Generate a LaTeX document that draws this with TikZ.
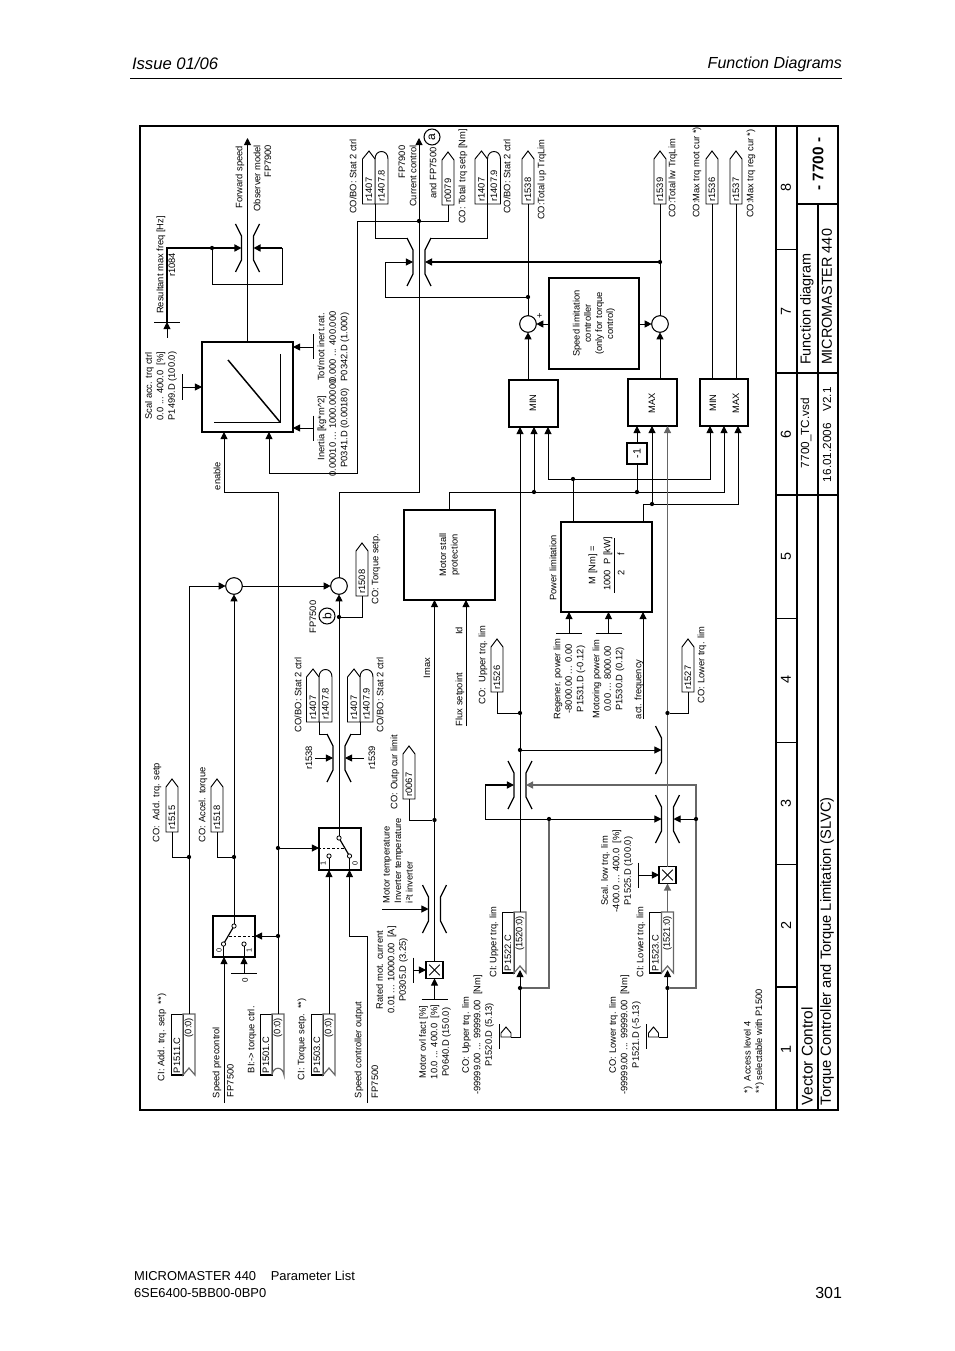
\documentclass[tikz,border=0pt]{standalone}
\usepackage{fontspec}
\setmainfont{Liberation Sans}
\usetikzlibrary{arrows.meta}

\tikzset{
  sz/.style 2 args={minimum width=#1*0.75pt,minimum height=#2*0.75pt},
  blk/.style={draw,line width=.8pt,inner sep=0,outer sep=0},
  lbl/.style={rotate=90,inner sep=0,outer sep=0,align=center,font=\fontsize{7}{8.6}\selectfont},
  ttl/.style={rotate=90,inner sep=0,outer sep=0,font=\fontsize{10.8}{13}\selectfont},
  pagetxt/.style={inner sep=0,outer sep=0,font=\fontsize{9.7}{12}\selectfont},
  sumc/.style={circle,draw,line width=.8pt,inner sep=0,outer sep=0,minimum size=12.5pt},
  jdot/.style={circle,fill,inner sep=0,outer sep=0,minimum size=3.2pt},
  cont/.style={circle,draw,fill=white,line width=.6pt,inner sep=0,outer sep=0,minimum size=3.2pt},
  mult/.style={blk,sz={17}{17},path picture={
      \draw[line width=.7pt] ([shift={(-4pt,-4pt)}]path picture bounding box.center) -- ([shift={(4pt,4pt)}]path picture bounding box.center);
      \draw[line width=.7pt] ([shift={(-4pt,4pt)}]path picture bounding box.center) -- ([shift={(4pt,-4pt)}]path picture bounding box.center);}},
  sig/.style={->},
  gry/.style={draw=black!60,line width=.9pt},
  heavy/.style={line width=1.1pt},
  pics/cotag/.style={code={
      \draw[fill=white] (-6,0) -- (-6,-45) -- (0,-53) -- (6,-45) -- (6,0) -- cycle;
      \node[lbl,anchor=west] (-txt) at (0,-2.5) {#1};
      \coordinate (-foot) at (0,0);}},
  pics/statpair/.style={code={
      \draw[fill=white] (0,0) -- (0,-45) .. controls (0,-55) and (13,-55) .. (13,-45) -- (13,0) -- cycle;
      \draw[fill=white] (-12.5,0) -- (-12.5,-45) -- (-6,-53) -- (0,-45) -- (0,0) -- cycle;
      \node[lbl,anchor=west] (-lft) at (-6,-2.5) {r1407};
      \node[lbl,anchor=west] (-rgt) at (6.5,-2.5) {#1};
      \coordinate (-foot) at (0,0);}},
  pics/citag/.style 2 args={code={
      \draw (-18,0) rectangle (-6,61);
      \draw[line width=1.3pt] (-18,61) -- (-6,61);
      \draw[gry] (-6,61) -- (-6,0) -- (6,0) -- (6,61) -- (0,54) -- cycle;
      \node[lbl,anchor=west] (-name) at (-12,59) {#1};
      \node[lbl,anchor=east] (-dflt) at (0,4) {#2};
      \coordinate (-top) at (0,0);
      \coordinate (-notch) at (0,58);}},
  pics/bitag/.style 2 args={code={
      \draw (-18,0) rectangle (-6,61);
      \draw[line width=1.3pt] (-18,61) -- (-6,61);
      \draw[gry] (-6,61) -- (-6,0) -- (6,0) -- (6,61) .. controls (5,52) and (-5,52) .. (-6,61);
      \node[lbl,anchor=west] (-name) at (-12,59) {#1};
      \node[lbl,anchor=east] (-dflt) at (0,4) {#2};
      \coordinate (-top) at (0,0);}},
  pics/srctag/.style={code={
      \draw (-5,0) -- (5,0) -- (5,-4) -- (0,-10) -- (-5,-4) -- cycle;
      \draw (-7,-13) -- (-7,12);
      \coordinate (-foot) at (5,0);}},
  pics/brkleft/.style={code={
      \draw[line width=.9pt] (-12,-24) -- (-6,-12) -- (-6,12) -- (-12,24);
      \coordinate (-in) at (-6,0);
      \coordinate (-top) at (-12,-24);}},
  pics/brkright/.style={code={
      \draw[line width=.9pt] (12,-24) -- (6,-12) -- (6,12) -- (12,24);
      \coordinate (-in) at (6,0);
      \coordinate (-top) at (12,-24);}},
  pics/vtick/.style={code={
      \draw (0,-12.5) -- (0,12.5);
      \coordinate (-c) at (0,0);}},
  pics/htick/.style={code={
      \draw (-13,0) -- (13,0);
      \coordinate (-c) at (0,0);}},
}

\begin{document}
\begin{tikzpicture}[x=0.75pt,y=-0.75pt,line width=.7pt,>={Triangle[length=5.3pt,width=5.3pt]}]
    \useasboundingbox (0,0) rectangle (954,1351);

    % page head and foot
    \node[pagetxt,anchor=west,font=\fontsize{12.5}{14}\selectfont\itshape] (issue) at (132,64) {Issue 01/06};
    \node[pagetxt,anchor=east,font=\fontsize{12}{14}\selectfont\itshape] (chapter) at (842,64) {Function Diagrams};
    \draw (130,78) -- (842,78);
    \node[pagetxt,anchor=west] (foot1) at (134,1276) {MICROMASTER 440\hspace{11pt}Parameter List};
    \node[pagetxt,anchor=west] (foot2) at (134,1293) {6SE6400-5BB00-0BP0};
    \node[pagetxt,anchor=east,font=\fontsize{12}{14}\selectfont] (pageno) at (842,1293) {301};

    % frame and title block
    \node[blk,line width=1pt,sz={698}{984}] (frame) at (489,618) {};
    \draw[line width=1.2pt] (776,126) -- (776,1110);
    \draw[line width=1pt] (797,126) -- (797,1110);
    \draw[line width=1pt] (818,204) -- (818,1110);
    \draw[line width=1pt] (797,204) -- (838,204);
    \draw (776,249) -- (797,249);
    \draw[line width=1pt] (776,373) -- (838,373);
    \draw[line width=1pt] (776,495) -- (838,495);
    \draw (776,618) -- (797,618);
    \draw (776,742) -- (797,742);
    \draw (776,864) -- (797,864);
    \draw[line width=1pt] (776,987) -- (797,987);
    \node[ttl] (col8) at (786,187) {8};
    \node[ttl] (col7) at (786,311) {7};
    \node[ttl] (col6) at (786,434) {6};
    \node[ttl] (col5) at (786,556) {5};
    \node[ttl] (col4) at (786,679) {4};
    \node[ttl] (col3) at (786,803) {3};
    \node[ttl] (col2) at (786,925) {2};
    \node[ttl] (col1) at (786,1049) {1};
    \node[ttl,font=\fontsize{11.5}{13}\selectfont\bfseries] (fdnum) at (818,164) {- 7700 -};
    \node[ttl,anchor=west] (fdtitle) at (807,365) {Function diagram};
    \node[ttl,anchor=west] (fdunit) at (827,365) {MICROMASTER 440};
    \node[ttl,anchor=west,font=\fontsize{8.8}{11}\selectfont] (fdfile) at (806,468) {7700\_TC.vsd};
    \node[ttl,anchor=west,font=\fontsize{8.8}{11}\selectfont] (fddate) at (827,482) {16.01.2006\quad V2.1};
    \node[ttl,anchor=west,font=\fontsize{11.6}{13}\selectfont] (fdname) at (807,1105) {Vector Control};
    \node[ttl,anchor=west,font=\fontsize{11}{13}\selectfont] (fdsub) at (827,1105) {Torque Controller and Torque Limitation (SLVC)};

    % ramp block and forward speed
    \node[blk,sz={91}{90}] (ramp) at (247.5,387) {};
    \draw[line width=1.1pt] (228,360) -- (280,422);
    \draw (280,354) -- (280,422) -- (214,422);
    \coordinate (fwdtip) at (247.5,138);
    \draw[sig] (ramp.north) -- (fwdtip);
    \pic (fwdl) at (247.5,248) {brkleft};
    \pic (fwdr) at (247.5,248) {brkright};
    \pic (tmaxf) at (167,322) {htick};
    \coordinate (maxtail) at (167,338);
    \coordinate (maxcorner) at (167,248);
    \coordinate (fwdlow) at (212,284);
    \coordinate (fwdloop) at (282,248);
    \node[jdot] (fwddot) at (212,248) {};
    \draw[sig] (maxtail) -- (tmaxf-c);
    \draw[heavy] (tmaxf-c) -- (maxcorner) -- (fwddot);
    \draw[sig,heavy] (fwddot) -- (fwdl-in);
    \draw[sig,heavy] (fwdloop) -- (fwdr-in);
    \draw (fwddot) -- (fwdlow) -| (fwdloop);
    \pic (tscal) at (182,387) {vtick};
    \pic (trat) at (313,347) {vtick};
    \pic (tiner) at (313,428) {vtick};
    \draw[sig] (tscal-c) -- (tscal-c -| ramp.west);
    \draw[sig] (trat-c) -- (trat-c -| ramp.east);
    \draw[sig] (tiner-c) -- (tiner-c -| ramp.east);
    \node[lbl,anchor=east] (lfwd) at (240,146) {Forward speed};
    \node[lbl,anchor=east] (lobs) at (257,145) {Observer model};
    \node[lbl,anchor=east] (lfp1) at (268,145) {FP7900};
    \node[lbl] (lrmax) at (161,265) {Resultant max freq [Hz]};
    \node[lbl] (lr1084) at (172,265) {r1084};
    \node[lbl] (lscal) at (161,386) {Scal acc. trq ctrl\\0.0 ... 400.0~~[\%]\\P1499.D (100.0)};
    \node[lbl] (lrat) at (333.5,347) {Tot/mot inert.rat.\\0.000 ... 400.000\\P0342.D (1.000)};
    \node[lbl] (liner) at (333.5,428) {Inertia [kg*m\textasciicircum 2]\\0.00010 ... 1000.00000\\P0341.D (0.00180)};
    \node[lbl] (lenab) at (217,476) {enable};

    % current control path
    \node[sumc] (sum1) at (234,586) {};
    \node[sumc] (sum2) at (339,586) {};
    \pic (ccl) at (419,262) {brkleft};
    \pic (ccr) at (419,262) {brkright};
    \node[jdot] (ccdot) at (419,221) {};
    \coordinate (cctip) at (419,138);
    \coordinate (ccmid) at (419,492);
    \coordinate (cclow) at (339,492);
    \draw[sig] (sum2.north) -- (cclow) -- (ccmid) -- (cctip);
    \pic (r0079) at (448,205) {cotag=r0079};
    \coordinate (inrt) at (357,221);
    \coordinate (inrb) at (357,473);
    \coordinate (rampfb) at (269,473);
    \draw (r0079-foot) |- (ccdot);
    \draw[sig] (ccdot) -- (inrt) -- (inrb) -- (rampfb) -- (rampfb |- ramp.south);
    \pic (stat8) at (375,204) {statpair=r1407.8};
    \pic (stat9) at (487.5,204) {statpair=r1407.9};
    \draw (stat8-foot) |- (ccl-top);
    \draw (stat9-foot) |- (ccr-top);
    \node[blk,circle,sz={16}{16},fill=white] (marka) at (432,137) {};
    \node[lbl,font=\fontsize{9}{11}\selectfont] (lmarka) at (marka) {a};
    \node[blk,circle,sz={16}{16},fill=white] (markb) at (327,616) {};
    \node[lbl,font=\fontsize{9}{11}\selectfont] (lmarkb) at (markb) {b};
    \node[lbl] (lfp2) at (402,162) {FP7900};
    \node[lbl] (lcur) at (413,176) {Current control};
    \node[lbl] (land) at (433,173) {and FP7500};
    \node[lbl,anchor=west] (lstat1) at (353,214) {CO/BO: Stat 2 ctrl};
    \node[lbl,anchor=west] (lstat2) at (507,214) {CO/BO: Stat 2 ctrl};
    \node[lbl,anchor=west] (ltotal) at (463,224) {CO: Total trq setp [Nm]};

    % upper and lower total limit
    \node[sumc] (sum3) at (528,324) {};
    \node[sumc] (sum4) at (660,324) {};
    \node[blk,sz={90}{91}] (splim) at (594,323.5) {};
    \node[lbl,font=\fontsize{7}{8.4}\selectfont] (lsplim) at (splim) {Speed limitation\\controller\\(only for torque\\control)};
    \node[blk,sz={49}{47}] (minb) at (533.5,403.5) {};
    \node[blk,sz={49}{47}] (maxb) at (652.5,402.5) {};
    \node[blk,sz={48}{47}] (minmax) at (724,402.5) {};
    \node[lbl] (lminb) at (533,403) {MIN};
    \node[lbl] (lmaxb) at (652,403) {MAX};
    \node[lbl] (lmm1) at (713,403) {MIN};
    \node[lbl] (lmm2) at (736,403) {MAX};
    \node[lbl] (lplus) at (540,316) {+};
    \pic (r1538) at (528,204) {cotag=r1538};
    \pic (r1539) at (660,204) {cotag=r1539};
    \pic (r1536) at (712,204) {cotag=r1536};
    \pic (r1537) at (736,204) {cotag=r1537};
    \draw[sig] (minb.north -| sum3) -- (sum3.south);
    \draw[sig] (maxb.north -| sum4) -- (sum4.south);
    \draw (sum3.north) -- (r1538-foot);
    \draw (sum4.north) -- (r1539-foot);
    \draw (minmax.north -| r1536-foot) -- (r1536-foot);
    \draw (minmax.north -| r1537-foot) -- (r1537-foot);
    \draw[sig] (splim.west |- sum3) -- (sum3.east);
    \draw[sig] (splim.east |- sum4) -- (sum4.west);
    \node[jdot] (updot) at (528,297) {};
    \node[jdot] (lwdot) at (660,262) {};
    \coordinate (ccfbd) at (385,297);
    \coordinate (ccfbl) at (385,262);
    \draw[sig] (updot) -- (ccfbd) -- (ccfbl) -- (ccl-in);
    \draw[sig,heavy] (lwdot) -- (ccr-in);
    \node[lbl,anchor=west] (lup) at (542,220) {CO:Total up TrqLim};
    \node[lbl,anchor=west] (llw) at (673,218) {CO:Total lw TrqLim};
    \node[lbl,anchor=west] (lmot) at (697,218) {CO:Max trq mot cur *)};
    \node[lbl,anchor=west] (lreg) at (751,218) {CO:Max trq reg cur *)};

    % motor stall and power limitation
    \node[blk,sz={91}{90}] (stall) at (449.5,555) {};
    \node[lbl] (lstall) at (stall) {Motor stall\\protection};
    \node[blk,sz={91}{90}] (pwr) at (606.5,567) {};
    \node[blk,sz={20}{21}] (neg) at (637,453.5) {};
    \node[lbl,font=\fontsize{8}{10}\selectfont] (lneg) at (neg) {-1};
    \coordinate (stalltop) at (449,492);
    \coordinate (mmmid) at (724,492);
    \node[jdot] (d534) at (534,492) {};
    \node[jdot] (d637) at (637,492) {};
    \draw[sig] (stalltop |- stall.north) -- (stalltop) -- (mmmid) -- (mmmid |- minmax.south);
    \draw[sig] (d534) -- (d534 |- minb.south);
    \draw (d637) -- (neg.south);
    \draw[sig] (neg.north) -- (neg.north |- maxb.south);
    \node[jdot] (pdot) at (573,479) {};
    \coordinate (minr) at (548,479);
    \coordinate (mmr) at (710,479);
    \draw (pwr.north -| pdot) -- (pdot);
    \draw[sig] (pdot) -- (minr) -- (minr |- minb.south);
    \draw[sig] (pdot) -- (mmr) -- (mmr |- minmax.south);
    \coordinate (pwr2) at (643,504);
    \coordinate (mm3) at (738,504);
    \node[jdot] (d652) at (652,504) {};
    \draw[sig] (pwr.north -| pwr2) -- (pwr2) -- (mm3) -- (mm3 |- minmax.south);
    \draw[sig] (d652) -- (d652 |- maxb.south);
    \pic (tregen) at (569,633) {htick};
    \pic (tmotor) at (608.5,633) {htick};
    \coordinate (actf) at (643,719);
    \draw[sig] (tregen-c) -- (tregen-c |- pwr.south);
    \draw[sig] (tmotor-c) -- (tmotor-c |- pwr.south);
    \draw[sig] (actf) -- (actf |- pwr.south);
    \draw (614,538) -- (614,593);
    \node[lbl] (lmnm) at (593,565) {M [Nm] =};
    \node[lbl] (lmkw) at (608,564) {1000~~P~[kW]};
    \node[lbl] (lm2) at (621,573) {2};
    \node[lbl] (lmf) at (621,554) {f};
    \node[lbl] (lpwr) at (553,568) {Power limitation};
    \node[lbl] (lregen) at (569.5,679) {Regener. power lim\\-8000.00 ... 0.00\\P1531.D (-0.12)};
    \node[lbl] (lmotor) at (608.5,679) {Motoring power lim\\0.00 ... 8000.00\\P1530.D (0.12)};
    \node[lbl,anchor=west] (lact) at (639,719) {act. frequency};
    \coordinate (flux) at (466,726);
    \draw[sig] (flux) -- (flux |- stall.south);
    \node[lbl,anchor=west] (lflux) at (460,726) {Flux setpoint};
    \node[lbl] (lid) at (459,631) {Id};
    \node[lbl] (limax) at (427,668) {Imax};

    % torque setpoint selection
    \node[blk,sz={42}{41}] (sw1) at (234,936.5) {};
    \node[blk,sz={42}{42}] (sw2) at (340,849) {};
    \draw[line width=1.2pt] (sw2.north west) -- (sw2.north east);
    \node[cont] (sw1c) at (234,926) {};
    \node[cont] (sw1a) at (223.5,944) {};
    \node[cont] (sw1b) at (244,944) {};
    \node[cont] (sw2c) at (339,838) {};
    \node[cont] (sw2a) at (349.5,856) {};
    \node[cont] (sw2b) at (329,856) {};
    \draw[line width=.9pt] (sw1c) -- (sw1a);
    \draw[line width=.9pt] (sw2c) -- (sw2a);
    \draw (sw1a) -- (sw1a |- sw1.south);
    \draw (sw1b) -- (sw1b |- sw1.south);
    \draw (sw2a) -- (sw2a |- sw2.south);
    \draw (sw2b) -- (sw2b |- sw2.south);
    \coordinate (sw1d) at (229,936);
    \coordinate (sw2d) at (344,848);
    \draw[dashed,line width=.5pt,dash pattern=on 2pt off 1.5pt] (sw1d) -- (sw1d -| sw1.east);
    \draw[dashed,line width=.5pt,dash pattern=on 2pt off 1.5pt] (sw2d) -- (sw2d -| sw2.west);
    \node[lbl,font=\fontsize{5.5}{7}\selectfont] (lsw1a) at (219,950) {0};
    \node[lbl,font=\fontsize{5.5}{7}\selectfont] (lsw1b) at (249,950) {1};
    \node[lbl,font=\fontsize{5.5}{7}\selectfont] (lsw2a) at (323,863) {1};
    \node[lbl,font=\fontsize{5.5}{7}\selectfont] (lsw2b) at (355,863) {0};
    \draw[sig] (sw1c) -- (sum1.south);
    \draw[sig] (sw2c) -- (sum2.south);
    \draw[sig] (sum1.east) -- (sum2.west);
    \pic (p1511) at (189,1014) {citag={P1511.C}{(0:0)}};
    \pic (p1501) at (278,1014) {bitag={P1501.C}{(0:0)}};
    \pic (p1503) at (329,1014) {citag={P1503.C}{(0:0)}};
    \coordinate (addcorner) at (189,586);
    \draw[sig] (p1511-top) -- (addcorner) -- (sum1.west);
    \coordinate (tqctrl) at (278,492);
    \coordinate (enbot) at (224,492);
    \draw[sig] (p1501-top) -- (tqctrl) -- (enbot) -- (enbot |- ramp.south);
    \draw[sig] (p1503-top) -- (p1503-top |- sw2.south);
    \node[jdot] (dsw1) at (278,936) {};
    \node[jdot] (dsw2) at (278,848) {};
    \draw[sig] (dsw1) -- (dsw1 -| sw1.east);
    \draw[sig] (dsw2) -- (dsw2 -| sw2.west);
    \coordinate (spd) at (224,1103);
    \draw[sig] (spd) -- (spd |- sw1.south);
    \pic (tzero) at (244,973) {htick};
    \draw[sig] (tzero-c) -- (tzero-c |- sw1.south);
    \node[lbl,font=\fontsize{6}{7}\selectfont] (lzero) at (245,980) {0};
    \coordinate (spc1) at (349.5,936);
    \coordinate (spc2) at (367,936);
    \coordinate (spc3) at (367,1103);
    \draw[sig] (spc3) -- (spc2) -- (spc1) -- (spc1 |- sw2.south);
    \pic (r1515) at (172,832) {cotag=r1515};
    \pic (r1518) at (217,832) {cotag=r1518};
    \pic (r1508) at (362,596) {cotag=r1508};
    \node[jdot] (d189) at (189,857) {};
    \node[jdot] (d234) at (234,857) {};
    \node[jdot] (d617) at (339,617) {};
    \draw (r1515-foot) |- (d189);
    \draw (r1518-foot) |- (d234);
    \draw (r1508-foot) |- (d617);
    \node[lbl,anchor=west] (ladd) at (157,842) {CO:~~Add. trq. setp};
    \node[lbl,anchor=west] (lacc) at (203,842) {CO: Accel. torque};
    \node[lbl] (lsetp) at (376,569) {CO: Torque setp.};
    \node[lbl] (lfp3) at (313,617) {FP7500};
    \node[lbl,anchor=west] (lcia) at (162,1081) {CI: Add. trq. setp~~**)};
    \node[lbl,anchor=west] (lbit) at (252,1073) {BI:-> torque ctrl.};
    \node[lbl,anchor=west] (lcit) at (302,1080) {CI: Torque setp.~~**)};
    \node[lbl,anchor=west] (lspd) at (217,1098) {Speed precontrol};
    \node[lbl,anchor=west] (lfp4) at (230.5,1097) {FP7500};
    \node[lbl,anchor=west] (lsco) at (359,1098) {Speed controller output};
    \node[lbl,anchor=west] (lfp5) at (375,1098) {FP7500};

    % r1538 and r1539 switch
    \pic (tsl) at (339,758) {brkleft};
    \pic (tsr) at (339,758) {brkright};
    \pic (stat3) at (319,722) {statpair=r1407.8};
    \pic (stat4) at (360,722) {statpair=r1407.9};
    \draw (stat3-foot) |- (tsl-top);
    \draw (stat4-foot) |- (tsr-top);
    \coordinate (t1538) at (315,758);
    \coordinate (t1539) at (364,758);
    \draw[sig] (t1538) -- (tsl-in);
    \draw[sig] (t1539) -- (tsr-in);
    \node[lbl] (lr38) at (309,758) {r1538};
    \node[lbl] (lr39) at (372,758) {r1539};
    \node[lbl,anchor=west] (lstat3) at (298,732) {CO/BO: Stat 2 ctrl};
    \node[lbl,anchor=west] (lstat4) at (380,732) {CO/BO: Stat 2 ctrl};

    % current limit
    \node[mult] (mult1) at (434.5,970) {};
    \pic (mtl) at (434.5,909) {brkleft};
    \pic (mtr) at (434.5,909) {brkright};
    \draw[sig] (mult1.north) -- (mult1.north |- stall.south);
    \coordinate (mtmp) at (382,909);
    \draw[sig] (mtmp) -- (mtl-in);
    \pic (tmot) at (413,970) {vtick};
    \pic (tovl) at (434.5,999) {htick};
    \draw[sig] (tmot-c) -- (mult1.west);
    \draw[sig] (tovl-c) -- (mult1.south);
    \pic (r0067) at (409,799) {cotag=r0067};
    \node[jdot] (d820) at (434.5,820) {};
    \draw (r0067-foot) |- (d820);
    \node[lbl,anchor=west] (lout) at (395,809) {CO: Outp cur limit};
    \node[lbl,anchor=west,align=left] (ltemp) at (398,903) {Motor temperature\\Inverter temperature\\i²t inverter};
    \node[lbl] (lrated) at (392,970) {Rated mot. current\\0.01 ... 10000.00~~[A]\\P0305.D (3.25)};
    \node[lbl] (lovl) at (435,1042) {Motor ovl fact [\%]\\10.0 ... 400.0~~[\%]\\P0640.D (150.0)};

    % torque limits
    \pic (trl) at (520,785) {brkleft};
    \pic (trr) at (520,785) {brkright};
    \pic (lsl) at (667.5,819) {brkleft};
    \pic (lsr) at (667.5,819) {brkright};
    \pic (tll) at (667.5,750) {brkleft};
    \pic (p1522) at (520,912) {citag={P1522.C}{(1520:0)}};
    \pic (p1523) at (667.5,912) {citag={P1523.C}{(1521:0)}};
    \node[mult] (mult2) at (667.5,875) {};
    \draw[sig] (p1522-top) -- (p1522-top |- minb.south);
    \draw[sig,gry] (p1523-top) -- (mult2.south);
    \draw[sig,gry] (mult2.north) -- (mult2.north |- maxb.south);
    \node[jdot] (upfb) at (520,988) {};
    \node[jdot] (lwfb) at (667.5,988) {};
    \pic (upcon) at (506,1037) {srctag};
    \pic (lwcon) at (653.5,1037) {srctag};
    \draw[sig] (upcon-foot) -| (p1522-notch);
    \draw[sig] (lwcon-foot) -| (p1523-notch);
    \node[jdot] (lowbus) at (549,819) {};
    \draw[gry] (lowbus) |- (upfb);
    \coordinate (upfa) at (485,785);
    \coordinate (upfl) at (485,819);
    \draw[sig,heavy] (upfa) -- (trl-in);
    \draw[sig] (upfa) -- (upfl) -- (lsl-in);
    \coordinate (loopr) at (696,988);
    \coordinate (loopt) at (696,785);
    \draw[sig,gry,heavy] (lwfb) -- (loopr) -- (loopt) -- (trr-in);
    \node[jdot] (d696) at (696,819) {};
    \draw[sig] (d696) -- (lsr-in);
    \node[jdot] (d750) at (520,750) {};
    \draw[sig] (d750) -- (tll-in);
    \pic (r1526) at (497,692) {cotag=r1526};
    \pic (r1527) at (688,692) {cotag=r1527};
    \node[jdot] (d713a) at (520,713) {};
    \node[jdot] (d713b) at (667.5,713) {};
    \draw (r1526-foot) |- (d713a);
    \draw (r1527-foot) |- (d713b);
    \pic (tlow) at (638,875) {vtick};
    \draw[sig] (tlow-c) -- (mult2.west);
    \node[lbl] (lupco) at (483,665) {CO:~~Upper trq. lim};
    \node[lbl] (llwco) at (702,665) {CO: Lower trq. lim};
    \node[lbl] (lupci) at (494,942) {CI: Upper trq. lim};
    \node[lbl] (llwci) at (641,942) {CI: Lower trq. lim};
    \node[lbl] (lscl) at (617,871) {Scal. low trq. lim\\-400.0 ... 400.0~~[\%]\\P1525.D (100.0)};
    \node[lbl] (lupsrc) at (478,1035) {CO: Upper trq. lim\\-99999.00 ... 99999.00~~[Nm]\\P1520.D (5.13)};
    \node[lbl] (llwsrc) at (625,1035) {CO: Lower trq. lim\\-99999.00 ... 99999.00~~[Nm]\\P1521.D (-5.13)};
    \node[lbl,anchor=west,align=left] (lnote) at (754,1093) {*)~~Access level 4\\**) selectable with P1500};
\end{tikzpicture}
\end{document}
